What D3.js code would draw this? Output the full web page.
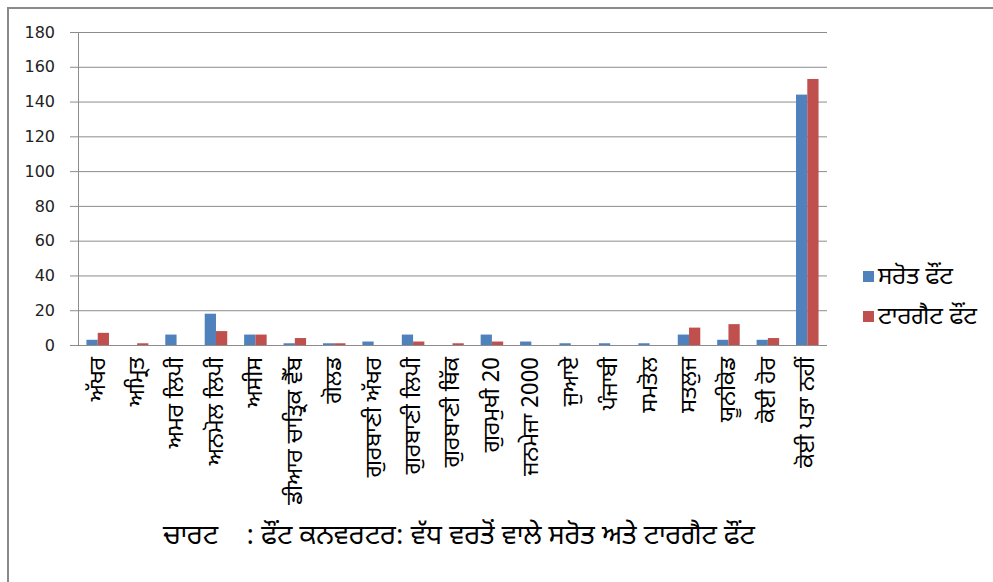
<!DOCTYPE html>
<html>
<head>
<meta charset="utf-8">
<script src="https://cdn.jsdelivr.net/npm/d3@7"></script>
<style>
  body { margin: 0; background: #fff; }
  text { font-family: "Noto Sans Gurmukhi", "Lohit Gurmukhi", Raavi, "DejaVu Sans", sans-serif; fill: #000; }
  .ytick text { font-family: "DejaVu Sans", sans-serif; font-size: 16px; fill: #222; }
</style>
</head>
<body>
<svg id="chart" width="993" height="582"></svg>
<script>
// categories (font names) and the two series
var fonts = ['ਅੱਖਰ', 'ਅਮ੍ਰਿਤ', 'ਅਮਰ ਲਿਪੀ', 'ਅਨਮੋਲ ਲਿਪੀ', 'ਅਸੀਸ', 'ਡੀਆਰ ਚਾਤ੍ਰਿਕ ਵੈੱਬ',
  'ਗੋਲਡ', 'ਗੁਰਬਾਣੀ ਅੱਖਰ', 'ਗੁਰਬਾਣੀ ਲਿਪੀ', 'ਗੁਰਬਾਣੀ ਥਿੱਕ', 'ਗੁਰਮੁਖੀ 20', 'ਜਨਮੇਜਾ 2000',
  'ਜੁਆਏ', 'ਪੰਜਾਬੀ', 'ਸਮਤੋਲ', 'ਸਤਲੁਜ', 'ਯੂਨੀਕੋਡ', 'ਕੋਈ ਹੋਰ', 'ਕੋਈ ਪਤਾ ਨਹੀਂ'];
var sourceFont = [3, 0, 6, 18, 6, 1, 1, 2, 6, 0, 6, 2, 1, 1, 1, 6, 3, 3, 144];
var targetFont = [7, 1, 0, 8, 6, 4, 1, 0, 2, 1, 2, 0, 0, 0, 0, 10, 12, 4, 153];
var seriesNames = ['ਸਰੋਤ ਫੌਂਟ', 'ਟਾਰਗੈਟ ਫੌਂਟ'];
var seriesColors = ['#4f81bd', '#c0504d'];
var yTicks = [0, 20, 40, 60, 80, 100, 120, 140, 160, 180];
var titleText = 'ਚਾਰਟ    : ਫੌਂਟ ਕਨਵਰਟਰ: ਵੱਧ ਵਰਤੋਂ ਵਾਲੇ ਸਰੋਤ ਅਤੇ ਟਾਰਗੈਟ ਫੌਂਟ';

var svg = d3.select('#chart');

// outer frame
svg.append('rect')
  .attr('x', 8).attr('y', 8)
  .attr('width', 1000).attr('height', 600)
  .attr('fill', 'none').attr('stroke', '#8a8a8a').attr('stroke-width', 2);

var plot = {left: 78, right: 827, top: 32, bottom: 345};

var xScale = d3.scaleBand()
  .domain(fonts)
  .range([plot.left, plot.right]);

var xInner = d3.scaleBand()
  .domain([0, 1])
  .range([0, xScale.bandwidth()])
  .paddingInner(0)
  .paddingOuter(0.75);

var yScale = d3.scaleLinear()
  .domain([0, 180])
  .range([plot.bottom, plot.top]);

// gridlines + y labels
var yAxis = d3.axisLeft(yScale)
  .tickValues(yTicks)
  .tickSize(plot.right - plot.left + 8)
  .tickPadding(15)
  .tickFormat(d3.format('d'));

svg.append('g')
  .attr('class', 'ytick')
  .attr('transform', `translate(${plot.right},0)`)
  .call(yAxis)
  .call(g => g.select('.domain').remove())
  .call(g => g.selectAll('line').attr('stroke', '#8c8c8c'));

// vertical axis line
svg.append('line')
  .attr('x1', plot.left + 0.5).attr('x2', plot.left + 0.5)
  .attr('y1', plot.top).attr('y2', plot.bottom)
  .attr('stroke', '#8c8c8c');

// bars
var rows = fonts.map((f, i) => ({name: f, vals: [sourceFont[i], targetFont[i]]}));

var groups = svg.append('g').selectAll('g')
  .data(rows)
  .enter().append('g')
  .attr('transform', d => `translate(${xScale(d.name)},0)`);

groups.selectAll('rect')
  .data(d => d.vals.map((v, k) => ({k: k, v: v})))
  .enter().append('rect')
  .attr('x', d => xInner(d.k))
  .attr('width', xInner.bandwidth())
  .attr('y', d => yScale(d.v))
  .attr('height', d => plot.bottom - yScale(d.v))
  .attr('fill', d => seriesColors[d.k]);

// category labels, rotated
svg.append('g').selectAll('text')
  .data(fonts)
  .enter().append('text')
  .attr('transform', d => `translate(${xScale(d) + xScale.bandwidth() / 2},357) rotate(-90)`)
  .attr('text-anchor', 'end')
  .attr('dy', '0.3em')
  .style('font-size', '23px')
  .text(d => d);

// legend
var legend = svg.append('g').selectAll('g')
  .data(seriesNames)
  .enter().append('g')
  .attr('transform', (d, i) => `translate(863,${277 + i * 40})`);

legend.append('rect')
  .attr('x', 0).attr('y', -6)
  .attr('width', 11).attr('height', 11)
  .attr('fill', (d, i) => seriesColors[i]);

legend.append('text')
  .attr('x', 15)
  .attr('dy', '0.3em')
  .style('font-size', '24px')
  .text(d => d);

// title
svg.append('text')
  .attr('x', 163)
  .attr('y', 544)
  .attr('xml:space', 'preserve')
  .style('white-space', 'pre')
  .style('font-size', '27px')
  .text(titleText);
</script>
</body>
</html>
